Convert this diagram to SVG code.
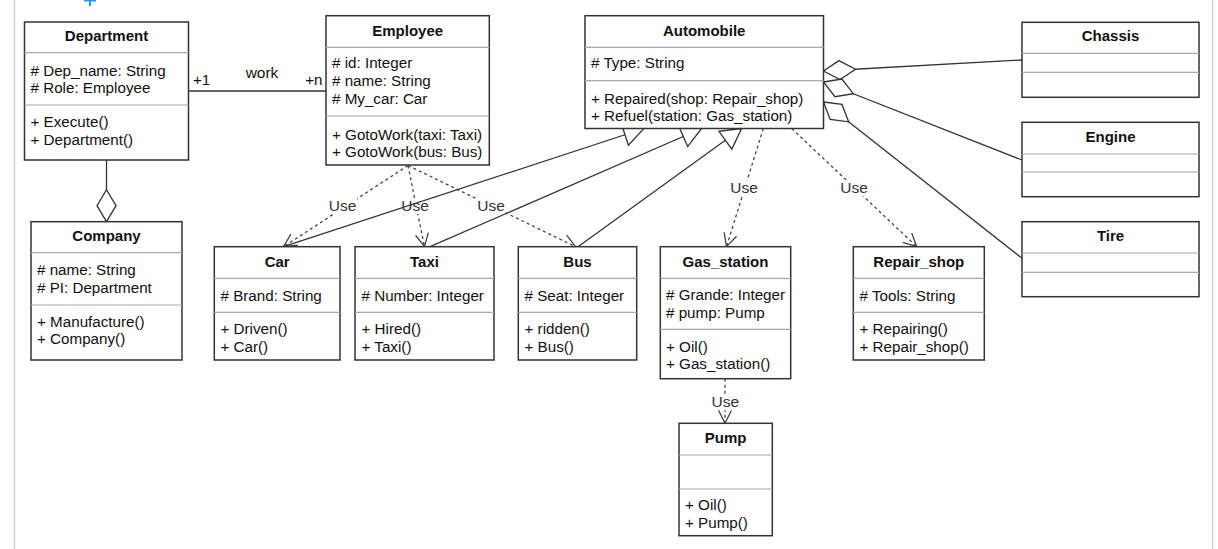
<svg xmlns="http://www.w3.org/2000/svg" width="1218" height="549" viewBox="0 0 1218 549">
<style>
.box{fill:#fff;stroke:#333;stroke-width:1.5}
.sep{stroke:#a8a8a8;stroke-width:1.2;fill:none}
.t{font-family:"Liberation Sans",Arial,sans-serif;font-size:15.2px;fill:#111}
.title{font-weight:bold;text-anchor:middle;font-size:15px}
.edge{fill:none;stroke:#333;stroke-width:1.3}
.dash{stroke:#444;stroke-dasharray:3 3}
.lbl{font-family:"Liberation Sans",Arial,sans-serif;font-size:15.5px;fill:#333;text-anchor:middle}
.lbg{fill:#fff}
.frame{stroke:#d2d2d2;stroke-width:1.5;fill:none}
</style>
<defs>
<marker id="open" markerUnits="userSpaceOnUse" markerWidth="20" markerHeight="20" refX="0" refY="0" orient="auto" overflow="visible">
<path d="M-13,-6.5 L0,0 L-13,6.5" fill="none" stroke="#444" stroke-width="1.3"/>
</marker>
<marker id="tri" markerUnits="userSpaceOnUse" markerWidth="30" markerHeight="30" refX="0" refY="0" orient="auto" overflow="visible">
<path d="M0,0 L-20,-11 L-20,11 Z" fill="#fff" stroke="#333" stroke-width="1.3"/>
</marker>
<marker id="dia" markerUnits="userSpaceOnUse" markerWidth="40" markerHeight="30" refX="0" refY="0" orient="auto" overflow="visible">
<path d="M0,0 L16,-9.5 L32,0 L16,9.5 Z" fill="#fff" stroke="#333" stroke-width="1.3"/>
</marker>
</defs>
<rect x="0" y="0" width="1218" height="549" fill="#fff"/>
<line class="frame" x1="14.5" y1="0" x2="14.5" y2="549"/>
<line class="frame" x1="1212.5" y1="0" x2="1212.5" y2="549"/>
<path d="M90,-4 V6 M84,0.5 H96" stroke="#3a8ee6" stroke-width="2" fill="none"/>

<g id="connectors">
<!-- association work -->
<path class="edge" d="M188.5,91 L326,91"/>
<text class="t" x="193" y="85">+1</text>
<text class="lbl" x="262" y="78" style="fill:#111">work</text>
<text class="t" x="322.5" y="85" text-anchor="end">+n</text>
<!-- aggregation Company - Department -->
<path class="edge" d="M106.5,221.7 L106.5,160" marker-start="url(#dia)"/>
<!-- dependencies -->
<path class="edge dash" d="M408,165.5 L283.5,246.7" marker-end="url(#open)"/>
<path class="edge dash" d="M408,165.5 L424.5,246.7" marker-end="url(#open)"/>
<path class="edge dash" d="M408,165.5 L575.5,246.7" marker-end="url(#open)"/>
<path class="edge dash" d="M763.3,128.5 L726.5,246.7" marker-end="url(#open)"/>
<path class="edge dash" d="M791.7,128.5 L916.7,246.7" marker-end="url(#open)"/>
<path class="edge dash" d="M725,378.7 L725,423.3" marker-end="url(#open)"/>
<rect class="lbg" x="328" y="198" width="29" height="16"/>
<text class="lbl" x="342.5" y="211">Use</text>
<rect class="lbg" x="400.5" y="198" width="29" height="16"/>
<text class="lbl" x="415" y="211">Use</text>
<rect class="lbg" x="476.5" y="198" width="29" height="16"/>
<text class="lbl" x="491" y="211">Use</text>
<rect class="lbg" x="729.5" y="180.3" width="29" height="16"/>
<text class="lbl" x="744" y="193.3">Use</text>
<rect class="lbg" x="839.5" y="180.3" width="29" height="16"/>
<text class="lbl" x="854" y="193.3">Use</text>
<rect class="lbg" x="710.8" y="394.3" width="29" height="16"/>
<text class="lbl" x="725.3" y="407.3">Use</text>
<!-- generalizations -->
<path class="edge" d="M283.5,246.7 L644,128.5" marker-end="url(#tri)"/>
<path class="edge" d="M430,246.7 L701.6,128.5" marker-end="url(#tri)"/>
<path class="edge" d="M578,246.7 L741.6,128.5" marker-end="url(#tri)"/>
<!-- aggregations to parts -->
<path class="edge" d="M823.5,71 L1022,60" marker-start="url(#dia)"/>
<path class="edge" d="M823.5,82 L1022,160" marker-start="url(#dia)"/>
<path class="edge" d="M823.5,102 L1022,258.3" marker-start="url(#dia)"/>
</g>

<g id="Department">
<rect class="box" x="24.5" y="22" width="164" height="138"/>
<line class="sep" x1="24.5" y1="52.7" x2="188.5" y2="52.7"/>
<line class="sep" x1="24.5" y1="105" x2="188.5" y2="105"/>
<text class="t title" x="106.5" y="41">Department</text>
<text class="t" x="30.5" y="75.7"># Dep_name: String</text>
<text class="t" x="30.5" y="93"># Role: Employee</text>
<text class="t" x="30.5" y="127">+ Execute()</text>
<text class="t" x="30.5" y="144.5">+ Department()</text>
</g>

<g id="Company">
<rect class="box" x="31" y="221.7" width="151" height="138.3"/>
<line class="sep" x1="31" y1="252.7" x2="182" y2="252.7"/>
<line class="sep" x1="31" y1="305" x2="182" y2="305"/>
<text class="t title" x="106.5" y="241">Company</text>
<text class="t" x="37" y="275"># name: String</text>
<text class="t" x="37" y="292.5"># PI: Department</text>
<text class="t" x="37" y="326.7">+ Manufacture()</text>
<text class="t" x="37" y="344.2">+ Company()</text>
</g>

<g id="Employee">
<rect class="box" x="326" y="15.7" width="163.3" height="149.3"/>
<line class="sep" x1="326" y1="47.3" x2="489.3" y2="47.3"/>
<line class="sep" x1="326" y1="116" x2="489.3" y2="116"/>
<text class="t title" x="407.7" y="35.7">Employee</text>
<text class="t" x="332" y="68.3"># id: Integer</text>
<text class="t" x="332" y="86"># name: String</text>
<text class="t" x="332" y="103.7"># My_car: Car</text>
<text class="t" x="332" y="140">+ GotoWork(taxi: Taxi)</text>
<text class="t" x="332" y="157">+ GotoWork(bus: Bus)</text>
</g>

<g id="Automobile">
<rect class="box" x="585" y="15.7" width="238.5" height="112.8"/>
<line class="sep" x1="585" y1="47.3" x2="823.5" y2="47.3"/>
<line class="sep" x1="585" y1="80.7" x2="823.5" y2="80.7"/>
<text class="t title" x="704.2" y="35.7">Automobile</text>
<text class="t" x="591" y="68.3"># Type: String</text>
<text class="t" x="591" y="104">+ Repaired(shop: Repair_shop)</text>
<text class="t" x="591" y="121.3">+ Refuel(station: Gas_station)</text>
</g>

<g id="Chassis">
<rect class="box" x="1022" y="22.3" width="177" height="75"/>
<line class="sep" x1="1022" y1="53.3" x2="1199" y2="53.3"/>
<line class="sep" x1="1022" y1="72.3" x2="1199" y2="72.3"/>
<text class="t title" x="1110.5" y="41">Chassis</text>
</g>

<g id="Engine">
<rect class="box" x="1022" y="122.3" width="177" height="74.4"/>
<line class="sep" x1="1022" y1="154" x2="1199" y2="154"/>
<line class="sep" x1="1022" y1="172" x2="1199" y2="172"/>
<text class="t title" x="1110.5" y="141.7">Engine</text>
</g>

<g id="Tire">
<rect class="box" x="1022" y="221.7" width="177" height="75"/>
<line class="sep" x1="1022" y1="253" x2="1199" y2="253"/>
<line class="sep" x1="1022" y1="272.3" x2="1199" y2="272.3"/>
<text class="t title" x="1110.5" y="240.7">Tire</text>
</g>

<g id="Car">
<rect class="box" x="214.3" y="246.7" width="125.7" height="113.3"/>
<line class="sep" x1="214.3" y1="278.3" x2="340" y2="278.3"/>
<line class="sep" x1="214.3" y1="312.3" x2="340" y2="312.3"/>
<text class="t title" x="277.2" y="266.5">Car</text>
<text class="t" x="220.5" y="300.5"># Brand: String</text>
<text class="t" x="220.5" y="334">+ Driven()</text>
<text class="t" x="220.5" y="351.5">+ Car()</text>
</g>

<g id="Taxi">
<rect class="box" x="355" y="246.7" width="139" height="113.3"/>
<line class="sep" x1="355" y1="278.3" x2="494" y2="278.3"/>
<line class="sep" x1="355" y1="312.3" x2="494" y2="312.3"/>
<text class="t title" x="424.5" y="266.5">Taxi</text>
<text class="t" x="361.5" y="300.5"># Number: Integer</text>
<text class="t" x="361.5" y="334">+ Hired()</text>
<text class="t" x="361.5" y="351.5">+ Taxi()</text>
</g>

<g id="Bus">
<rect class="box" x="518.3" y="246.7" width="118.4" height="113.3"/>
<line class="sep" x1="518.3" y1="278.3" x2="636.7" y2="278.3"/>
<line class="sep" x1="518.3" y1="312.3" x2="636.7" y2="312.3"/>
<text class="t title" x="577.5" y="266.5">Bus</text>
<text class="t" x="524.5" y="300.5"># Seat: Integer</text>
<text class="t" x="524.5" y="334">+ ridden()</text>
<text class="t" x="524.5" y="351.5">+ Bus()</text>
</g>

<g id="Gas_station">
<rect class="box" x="660.3" y="246.7" width="130.4" height="132"/>
<line class="sep" x1="660.3" y1="278.3" x2="790.7" y2="278.3"/>
<line class="sep" x1="660.3" y1="329.3" x2="790.7" y2="329.3"/>
<text class="t title" x="725.5" y="266.5">Gas_station</text>
<text class="t" x="666" y="300.2"># Grande: Integer</text>
<text class="t" x="666" y="317.7"># pump: Pump</text>
<text class="t" x="666" y="351.7">+ Oil()</text>
<text class="t" x="666" y="369.3">+ Gas_station()</text>
</g>

<g id="Repair_shop">
<rect class="box" x="853.3" y="246.7" width="131" height="113.3"/>
<line class="sep" x1="853.3" y1="278.3" x2="984.3" y2="278.3"/>
<line class="sep" x1="853.3" y1="312.3" x2="984.3" y2="312.3"/>
<text class="t title" x="918.8" y="266.5">Repair_shop</text>
<text class="t" x="859.5" y="300.5"># Tools: String</text>
<text class="t" x="859.5" y="334">+ Repairing()</text>
<text class="t" x="859.5" y="351.5">+ Repair_shop()</text>
</g>

<g id="Pump">
<rect class="box" x="679" y="423.3" width="93.3" height="112.4"/>
<line class="sep" x1="679" y1="455" x2="772.3" y2="455"/>
<line class="sep" x1="679" y1="489" x2="772.3" y2="489"/>
<text class="t title" x="725.7" y="443.3">Pump</text>
<text class="t" x="685" y="510">+ Oil()</text>
<text class="t" x="685" y="527.7">+ Pump()</text>
</g>
</svg>
